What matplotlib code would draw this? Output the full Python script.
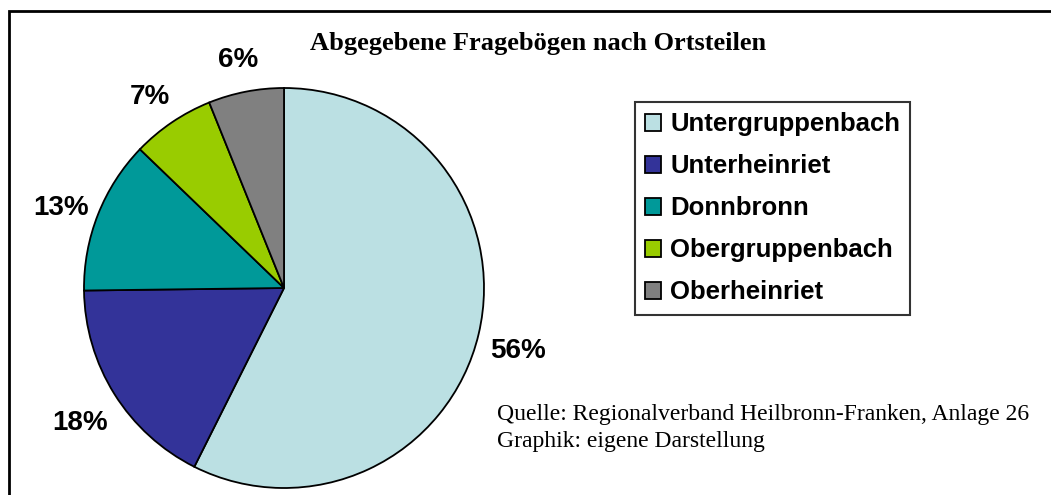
import matplotlib
matplotlib.use("Agg")
import matplotlib.pyplot as plt
from matplotlib.patches import Rectangle

# Abgegebene Fragebögen je Ortsteil
ortsteile = ["Untergruppenbach", "Unterheinriet", "Donnbronn",
             "Obergruppenbach", "Oberheinriet"]
anteile = [57.4, 17.4, 12.4, 6.7, 6.1]
# Beschriftungen wie in der Vorlage
beschriftung = ["56%", "18%", "13%", "7%", "6%"]
farben = ["#BBE0E3", "#333399", "#009999", "#99CC00", "#808080"]

W, H = 1051, 495
fig = plt.figure(figsize=(W / 100, H / 100), dpi=100)
ax = fig.add_axes([0, 0, 1, 1])

wedges, texts = ax.pie(
    anteile, labels=beschriftung, colors=farben, startangle=90,
    counterclock=False, center=(284, H - 288), radius=200,
    labeldistance=1.2,
    wedgeprops=dict(edgecolor="black", linewidth=1.3),
    textprops=dict(fontfamily="Liberation Sans", fontweight="bold",
                   fontsize=20, color="black"),
)
# Labels zentriert und etwas tiefer, wie bei Excel
for t in texts:
    t.set_ha("center")
    t.set_va("center")
    x, y = t.get_position()
    t.set_position((x, y - 8))

ax.set_xlim(0, W)
ax.set_ylim(0, H)
ax.set_aspect("auto")
ax.axis("off")

# Rahmen (nur oben/links sichtbar)
ax.add_patch(Rectangle((9, -50), 2000, H - 11 + 50, fill=False,
                       edgecolor="black", linewidth=2, clip_on=False))

ax.text(538, H - 50, "Abgegebene Fragebögen nach Ortsteilen",
        ha="center", va="baseline", fontfamily="Liberation Serif",
        fontweight="bold", fontsize=19)

leg = ax.legend(wedges, ortsteile, loc="upper left",
                bbox_to_anchor=(635 / W, 1 - 102 / H),
                bbox_transform=fig.transFigure,
                prop=dict(family="Liberation Sans", weight="bold", size=18.5),
                frameon=True, fancybox=False, edgecolor="black",
                handlelength=0.62, handleheight=0.62, handletextpad=0.35,
                labelspacing=0.70, borderpad=0.4, borderaxespad=0)
leg.get_frame().set_linewidth(1.5)

ax.text(497, H - 420, "Quelle: Regionalverband Heilbronn-Franken, Anlage 26",
        ha="left", va="baseline", fontfamily="Liberation Serif", fontsize=17)
ax.text(497, H - 447, "Graphik: eigene Darstellung",
        ha="left", va="baseline", fontfamily="Liberation Serif", fontsize=17)

fig.savefig("out.png", dpi=100)
